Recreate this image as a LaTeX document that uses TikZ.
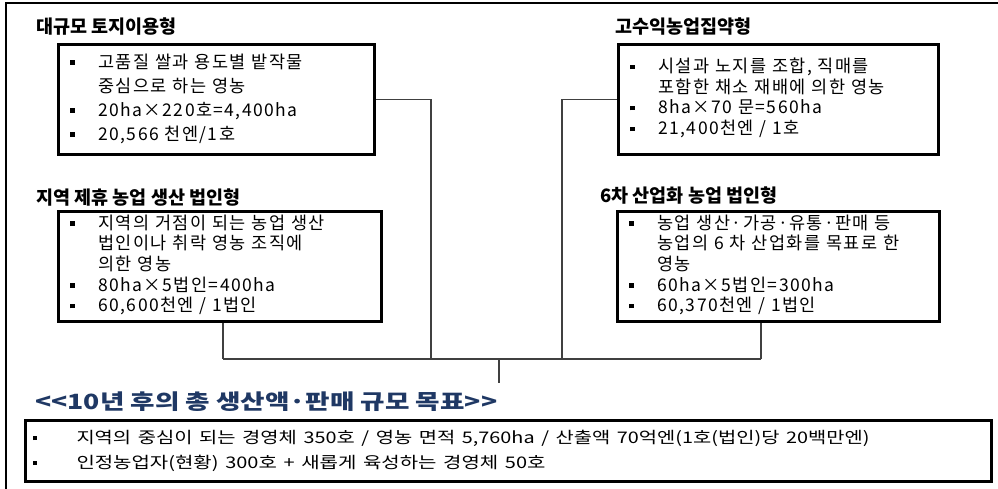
\documentclass[tikz,border=0pt]{standalone}
\usepackage{fontspec}
\usepackage{graphicx}
\newfontfamily\kr[LetterSpace=8]{Noto Sans CJK KR}
\newfontfamily\krhead{Noto Sans CJK KR}
\definecolor{goalblue}{HTML}{1F3864}
\newcommand\sq{\rule[3.5pt]{4.5pt}{4.5pt}}

\begin{document}
\begin{tikzpicture}[x=1pt,y=-1pt,
  box/.style={draw, line width=2.8pt, anchor=north west, inner xsep=12pt, inner ysep=0pt, align=left, minimum height=110pt, font=\kr\fontsize{17.5}{20.5}\selectfont},
  head/.style={anchor=west, inner sep=0pt, font=\krhead\bfseries\fontsize{18.5}{20}\selectfont},
  link/.style={line width=1.2pt, draw=black!75}]
\useasboundingbox (0,0) rectangle (998,488);
\draw[line width=1.5pt] (6,492) -- (6,3) -- (1002,3);

\node[head] (largehead) at (36,27) {대규모 토지이용형};
\node[head] (highhead) at (615,27) {고수익농업집약형};
\node[head] (reghead) at (36,198) {지역 제휴 농업 생산 법인형};
\node[head] (sixhead) at (600,196) {6차 산업화 농업 법인형};

\node[box, minimum width=316pt, text width=292pt, font=\kr\fontsize{17.5}{24}\selectfont] (large) at (57,43) {\begin{tabular}{@{}p{28pt}@{}l@{}}
\sq & 고품질 쌀과 용도별 밭작물\\
 & 중심으로 하는 영농\\
\sq & 20ha×220호=4,400ha\\
\sq & 20,566 천엔/1호
\end{tabular}};
\node[box, minimum width=320pt, text width=296pt] (highyield) at (617,43) {\begin{tabular}{@{}p{28pt}@{}l@{}}
\sq & 시설과 노지를 조합, 직매를\\
 & 포함한 채소 재배에 의한 영농\\
\sq & 8ha×70 문=560ha\\
\sq & 21,400천엔 / 1호
\end{tabular}};
\node[box, minimum width=323pt, text width=299pt] (regional) at (57,210) {\begin{tabular}{@{}p{28pt}@{}l@{}}
\sq & 지역의 거점이 되는 농업 생산\\
 & 법인이나 취락 영농 조직에\\
 & 의한 영농\\
\sq & 80ha×5법인=400ha\\
\sq & 60,600천엔 / 1법인
\end{tabular}};
\node[box, minimum width=322pt, text width=298pt] (sixth) at (616,210) {\begin{tabular}{@{}p{28pt}@{}l@{}}
\sq & 농업 생산·가공·유통·판매 등\\
 & 농업의 6 차 산업화를 목표로 한\\
 & 영농\\
\sq & 60ha×5법인=300ha\\
\sq & 60,370천엔 / 1법인
\end{tabular}};

\coordinate (ja) at (223,359);
\coordinate (jb) at (431,359);
\coordinate (hub) at (499,359);
\coordinate (jc) at (562,359);
\coordinate (jd) at (761,359);
\coordinate (stem) at (499,383);
\draw[link] (large.east) -| (jb);
\draw[link] (highyield.west) -| (jc);
\draw[link] (regional.south -| ja) -- (ja);
\draw[link] (sixth.south -| jd) -- (jd);
\draw[link] (ja) -- (jd);
\draw[link] (hub) -- (stem);

\node[anchor=west, inner sep=0pt, text=goalblue, font=\krhead\bfseries\fontsize{21}{24}\selectfont] (goalhead) at (35,402) {\resizebox{462pt}{\height}{<<10년 후의 총 생산액·판매 규모 목표>>}};
\node[draw, line width=3pt, anchor=north west, minimum width=966pt, minimum height=61pt, text width=952pt, inner xsep=7pt, inner ysep=0pt, align=left, font=\krhead\fontsize{16}{25}\selectfont] (goal) at (24,419) {\begin{tabular}{@{}p{44pt}@{}l@{}}
\sq & \resizebox{793pt}{\height}{지역의 중심이 되는 경영체 350호 / 영농 면적 5,760ha / 산출액 70억엔(1호(법인)당 20백만엔)}\\
\sq & \resizebox{469pt}{\height}{인정농업자(현황) 300호 + 새롭게 육성하는 경영체 50호}
\end{tabular}};
\end{tikzpicture}
\end{document}
